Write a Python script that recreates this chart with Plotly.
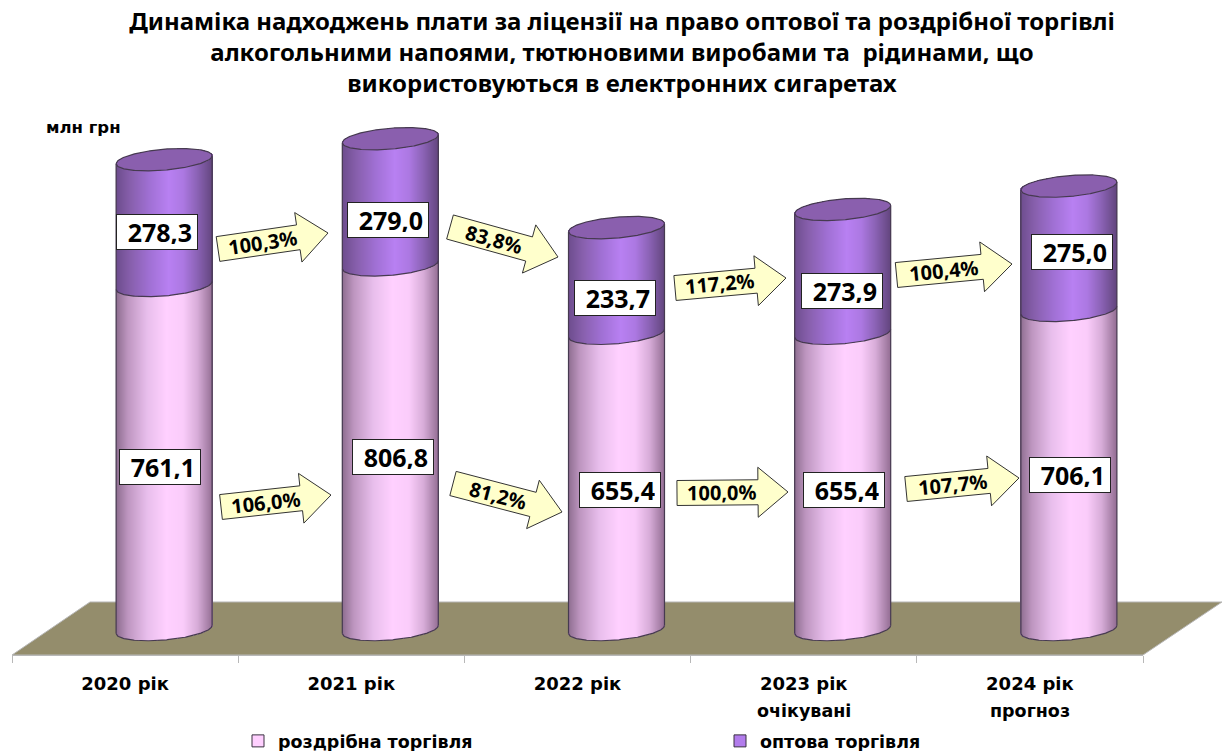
import numpy as np
import plotly.graph_objects as go

# ---------- data ----------
categories = ["2020 рік", "2021 рік", "2022 рік", "2023 рік", "2024 рік"]
second_lines = ["", "", "", "очікувані", "прогноз"]
retail = [761.1, 806.8, 655.4, 655.4, 706.1]
wholesale = [278.3, 279.0, 233.7, 273.9, 275.0]
retail_labels = ["761,1", "806,8", "655,4", "655,4", "706,1"]
wholesale_labels = ["278,3", "279,0", "233,7", "273,9", "275,0"]
retail_pct = ["106,0%", "81,2%", "100,0%", "107,7%"]
wholesale_pct = ["100,3%", "83,8%", "117,2%", "100,4%"]
title_lines = [
    "Динаміка надходжень плати за ліцензії на право оптової та роздрібної торгівлі",
    "алкогольними напоями, тютюновими виробами та  рідинами, що",
    "використовуються в електронних сигаретах",
]

# ---------- layout constants (pixels) ----------
W, H = 1226, 751
AX_L, AX_R, AX_Y = 12, 1143, 655
CAT_PX = (AX_R - AX_L) / 5
ZERO_PY, PX_PER_UNIT = 629.5, 0.452
DEPTH_SHIFT = 39 / CAT_PX         # columns stand behind the front axis line
HALF_W = 48 / CAT_PX
ELL_B = 10.5 / PX_PER_UNIT
ELL_TILT = 4 / PX_PER_UNIT
N = 96


def fx(px):
    return (px - AX_L) / (AX_R - AX_L)


def fy(py):
    return 1 - py / AX_Y


def mix(stops, t):
    ts = [s[0] for s in stops]
    rgb = [np.interp(t, ts, [s[1][k] for s in stops]) for k in range(3)]
    return "rgb(%d,%d,%d)" % tuple(int(round(c)) for c in rgb)


PINK = [(-1, (140, 108, 142)), (-0.75, (190, 150, 192)), (-0.35, (232, 190, 236)), (0.05, (255, 208, 255)),
        (0.4, (250, 204, 250)), (0.7, (215, 172, 216)), (1, (150, 112, 150))]
PURP = [(-1, (108, 76, 140)), (-0.7, (135, 95, 172)), (-0.3, (160, 112, 212)), (0.1, (184, 128, 242)),
        (0.4, (172, 120, 226)), (0.7, (138, 98, 180)), (1, (100, 70, 128))]

centers = np.arange(5) + DEPTH_SHIFT
ts = (np.arange(N) + 0.5) / N * 2 - 1
strip_w = 2 * HALF_W / N
front = ts * ELL_TILT - ELL_B * np.sqrt(1 - ts ** 2)
back = ts * ELL_TILT + ELL_B * np.sqrt(1 - ts ** 2)

fig = go.Figure()

# solid stacked columns (hidden under the shaded strips, drive the legend)
fig.add_trace(go.Bar(x=centers, y=retail, width=HALF_W * 1.6, name="роздрібна торгівля",
                     marker=dict(color="#ffd0ff", line=dict(color="#3a3040", width=1)), hoverinfo="skip"))
fig.add_trace(go.Bar(x=centers, y=wholesale, base=retail, width=HALF_W * 1.6, name="оптова торгівля",
                     marker=dict(color="#b27cec", line=dict(color="#3a3040", width=1)), hoverinfo="skip"))


def strips(bottoms, tops, stops):
    xs, bases, hs, cols = [], [], [], []
    for c, b, t in zip(centers, bottoms, tops):
        xs.extend(c + ts * HALF_W)
        bases.extend(b + front)
        hs.extend((t - b) * np.ones(N))
        cols.extend(mix(stops, v) for v in ts)
    return go.Bar(x=xs, y=hs, base=bases, width=strip_w, showlegend=False, hoverinfo="skip",
                  marker=dict(color=cols, line=dict(width=0)))


totals = [r + w for r, w in zip(retail, wholesale)]
fig.add_trace(strips([0] * 5, retail, PINK))
fig.add_trace(strips(retail, totals, PURP))

# top caps
cap_x, cap_b, cap_h = [], [], []
for c, t in zip(centers, totals):
    cap_x.extend(c + ts * HALF_W)
    cap_b.extend(t + front)
    cap_h.extend(back - front)
fig.add_trace(go.Bar(x=cap_x, y=cap_h, base=cap_b, width=strip_w, showlegend=False, hoverinfo="skip",
                     marker=dict(color="#8a5fae", line=dict(width=0))))

# outlines
tt = np.linspace(-1, 1, 121)
f_line = tt * ELL_TILT - ELL_B * np.sqrt(1 - tt ** 2)
b_line = tt * ELL_TILT + ELL_B * np.sqrt(1 - tt ** 2)
ox, oy = [], []
for c, r, t in zip(centers, retail, totals):
    xa = c + tt * HALF_W
    for level in (0, r, t):
        ox += list(xa) + [None]
        oy += list(level + f_line) + [None]
    ox += list(xa) + [None]
    oy += list(t + b_line) + [None]
    ox += [c - HALF_W, c - HALF_W, None, c + HALF_W, c + HALF_W, None]
    oy += [-ELL_TILT, t - ELL_TILT, None, ELL_TILT, t + ELL_TILT, None]
fig.add_trace(go.Scatter(x=ox, y=oy, mode="lines", line=dict(color="#463a50", width=1.2),
                         showlegend=False, hoverinfo="skip"))

# ---------- floor ----------
floor = [(AX_L, AX_Y), (90, 602), (1222, 602), (AX_R, AX_Y)]
path = "M" + " L".join(f"{fx(a):.5f},{fy(b):.5f}" for a, b in floor) + " Z"
shapes = [dict(type="path", xref="paper", yref="paper", path=path, fillcolor="#948d6c",
               line=dict(color="#b8b8b8", width=1), layer="below")]

annotations = []

# ---------- value boxes (left, top of each box) ----------
FONT = "Noto Sans"
BOX_W, BOX_H, BOX_PAD = 82, 36, 5
whole_boxes = [(116, 214), (347, 202), (574, 280), (801, 273), (1031, 234)]
retail_boxes = [(119, 449), (352, 439), (579, 472), (803, 472), (1029, 457)]
for labels, pos in ((wholesale_labels, whole_boxes), (retail_labels, retail_boxes)):
    for txt, (a, b) in zip(labels, pos):
        annotations.append(dict(xref="paper", yref="paper", x=fx(a + BOX_W / 2), y=fy(b + BOX_H / 2),
                                text=f"<b>{txt}</b>", showarrow=False, bgcolor="white", bordercolor="#222",
                                borderwidth=1, borderpad=BOX_PAD, width=BOX_W - 2 * BOX_PAD - 2,
                                height=BOX_H - 2 * BOX_PAD - 2, align="right", xanchor="center", yanchor="middle",
                                font=dict(family=FONT, size=25, color="black")))

# ---------- block arrows ----------
whole_arrows = [((218, 249), (328, 233)), ((450, 227), (558, 257)), ((675, 288), (786, 278)), ((896.5, 275), (1012, 264))]
retail_arrows = [((221, 507), (331, 495)), ((453, 483.5), (562, 512)), ((677, 493), (788, 492)), ((906, 489), (1019, 478))]
BODY, HEAD, HEAD_LEN = 12.5, 25, 30
for labels, arrs in ((wholesale_pct, whole_arrows), (retail_pct, retail_arrows)):
    for txt, (p0, p1) in zip(labels, arrs):
        p0, p1 = np.array(p0, float), np.array(p1, float)
        d = (p1 - p0) / np.linalg.norm(p1 - p0)
        n = np.array([-d[1], d[0]])
        neck = p1 - d * HEAD_LEN
        pts = [p0 + n * BODY, neck + n * BODY, neck + n * HEAD, p1, neck - n * HEAD, neck - n * BODY, p0 - n * BODY]
        path = "M" + " L".join(f"{fx(a):.5f},{fy(b):.5f}" for a, b in pts) + " Z"
        shapes.append(dict(type="path", xref="paper", yref="paper", path=path, fillcolor="#ffffcc",
                           line=dict(color="#333333", width=1), layer="above"))
        mid = p0 + (neck - p0) * 0.56
        ang = float(np.degrees(np.arctan2(d[1], d[0])))
        annotations.append(dict(xref="paper", yref="paper", x=fx(mid[0]), y=fy(mid[1]), text=f"<b>{txt}</b>",
                                showarrow=False, textangle=ang, xanchor="center", yanchor="middle",
                                font=dict(family=FONT, size=20, color="black")))

# ---------- other text ----------
for i, txt in enumerate(second_lines):
    if txt:
        annotations.append(dict(xref="x", yref="paper", x=i, y=fy(711), text=f"<b>{txt}</b>", showarrow=False,
                                xanchor="center", yanchor="middle",
                                font=dict(family="DejaVu Sans", size=17.5, color="black")))
annotations.append(dict(xref="paper", yref="paper", x=fx(83), y=fy(127), text="<b>млн грн</b>", showarrow=False,
                        xanchor="center", yanchor="middle", font=dict(family="DejaVu Sans", size=16.5, color="black")))

fig.update_layout(
    width=W, height=H, margin=dict(l=AX_L, r=W - AX_R, t=0, b=H - AX_Y, autoexpand=False),
    paper_bgcolor="white", plot_bgcolor="rgba(0,0,0,0)", barmode="overlay", bargap=0,
    title=dict(text="<b>" + "<br>".join(title_lines) + "</b>", x=622 / W, xanchor="center", y=1 - 30 / H,
               yanchor="top", font=dict(family="Noto Sans", size=24, color="black")),
    xaxis=dict(range=[-0.5, 4.5], tickmode="array", tickvals=list(range(5)), ticktext=[f"<b>{c}</b>" for c in categories],
               ticks="", ticklabelstandoff=12, tickfont=dict(family="DejaVu Sans", size=18, color="black"),
               showgrid=False, zeroline=False, showline=True, linecolor="#b8b8b8", linewidth=1,
               minor=dict(tickmode="array", tickvals=[i - 0.5 for i in range(6)], ticks="outside", ticklen=7,
                          tickcolor="#b8b8b8", showgrid=False)),
    yaxis=dict(range=[(ZERO_PY - AX_Y) / PX_PER_UNIT, ZERO_PY / PX_PER_UNIT], visible=False),
    legend=dict(orientation="h", x=fx(238), y=fy(723), xanchor="left", yanchor="top", entrywidth=437,
                entrywidthmode="pixels", bgcolor="rgba(0,0,0,0)", traceorder="normal",
                font=dict(family="DejaVu Sans", size=17.5, color="black", weight="bold")),
    shapes=shapes, annotations=annotations, showlegend=True,
)
fig.write_html("out.html", config=dict(displayModeBar=False),
               post_script="document.body.style.margin='0';document.body.style.overflow='hidden';")
